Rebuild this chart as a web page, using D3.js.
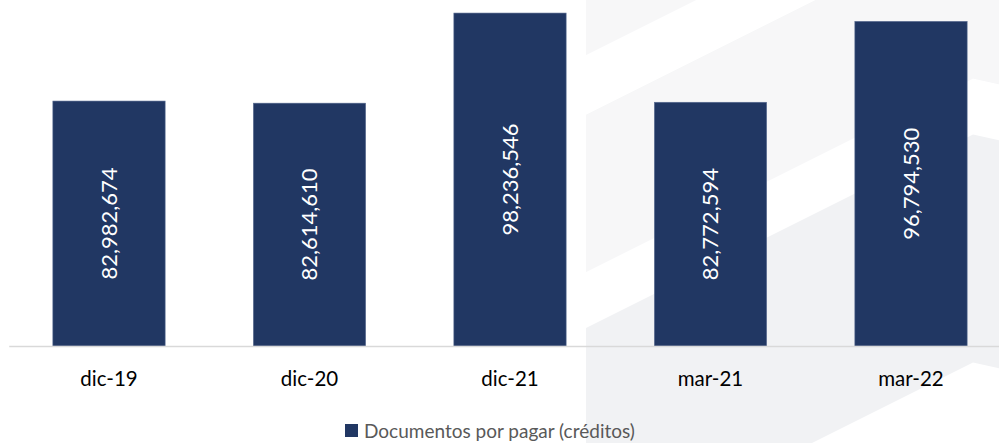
<!DOCTYPE html>
<html>
<head>
<meta charset="utf-8">
<script src="https://cdn.jsdelivr.net/npm/d3@7/dist/d3.min.js"></script>
<style>
  html, body { margin: 0; padding: 0; background: #ffffff; }
  svg { display: block; }
  text { font-family: Lato, "Open Sans", sans-serif; }
</style>
</head>
<body>
<svg id="chart" width="999" height="443"></svg>
<script>
const categories = ["dic-19", "dic-20", "dic-21", "mar-21", "mar-22"];
const values = [82982674, 82614610, 98236546, 82772594, 96794530];
const seriesName = "Documentos por pagar (créditos)";

const W = 999, H = 443;
const svg = d3.select("#chart");

// decorative background watermark (chevron stripes)
const bg = svg.append("g");
const clip = svg.append("defs").append("clipPath").attr("id", "bgclip");
clip.append("rect").attr("x", 586).attr("y", 0).attr("width", W - 586).attr("height", H);
const bgG = bg.attr("clip-path", "url(#bgclip)");
bgG.append("rect").attr("x", 586).attr("y", 0).attr("width", W - 586).attr("height", H).attr("fill", "#f1f2f4");
function chevron(y0) {
  const px = 973;
  const peak = y0 - 0.5 * (px - 586);
  return [[560, y0 + 0.5 * 26], [px, peak], [1020, peak + 0.22 * 47]];
}
function band(a, b, fill) {
  const top = chevron(a), bot = chevron(b).reverse();
  bgG.append("path").attr("d", d3.line()(top.concat(bot)) + "Z").attr("fill", fill);
}
band(-1000, 55, "#f7f7f8");
band(55, 115, "#ffffff");
band(115, 272, "#f7f7f8");
band(272, 328, "#ffffff");
band(556, 2000, "#ffffff");

// scales
const x = d3.scaleBand().domain(categories).range([8.75, 1011.25]).paddingInner(0.44).paddingOuter(0.22);
const y = d3.scaleLinear().domain([40520000, 100500000]).range([346, 0]);

// bars
svg.append("g").selectAll("rect").data(values).join("rect")
  .attr("x", (d, i) => x(categories[i]))
  .attr("y", d => y(d))
  .attr("width", x.bandwidth())
  .attr("height", d => y.range()[0] - y(d))
  .attr("fill", "#213763")
  .attr("stroke", "#5a6d92")
  .attr("stroke-width", 0.6);

// bar labels
const fmt = d3.format(",");
svg.append("g").selectAll("text").data(values).join("text")
  .attr("transform", (d, i) => {
    const cx = x(categories[i]) + x.bandwidth() / 2;
    const cy = (y(d) + y.range()[0]) / 2;
    return `translate(${cx},${cy}) rotate(-90)`;
  })
  .attr("text-anchor", "middle")
  .attr("dy", "0.36em")
  .attr("fill", "#ffffff")
  .style("font-size", "22px")
  .text(d => fmt(d));

// axis
const axis = d3.axisBottom(x).tickSize(0).tickPadding(0);
const ax = svg.append("g").attr("transform", `translate(0,${y.range()[0]})`).call(axis);
ax.select(".domain").attr("stroke", "#d9d9d9").attr("stroke-width", 1.5);
ax.selectAll(".tick text")
  .attr("y", 40)
  .attr("dy", 0)
  .attr("fill", "#000000")
  .style("font-size", "20.5px")
  .style("font-family", "Lato, sans-serif");

// legend
const lg = svg.append("g");
lg.append("rect").attr("x", 345).attr("y", 424).attr("width", 13).attr("height", 13).attr("fill", "#213763");
lg.append("text").attr("x", 364).attr("y", 438).attr("fill", "#595959")
  .style("font-size", "19px").text(seriesName);
</script>
</body>
</html>
